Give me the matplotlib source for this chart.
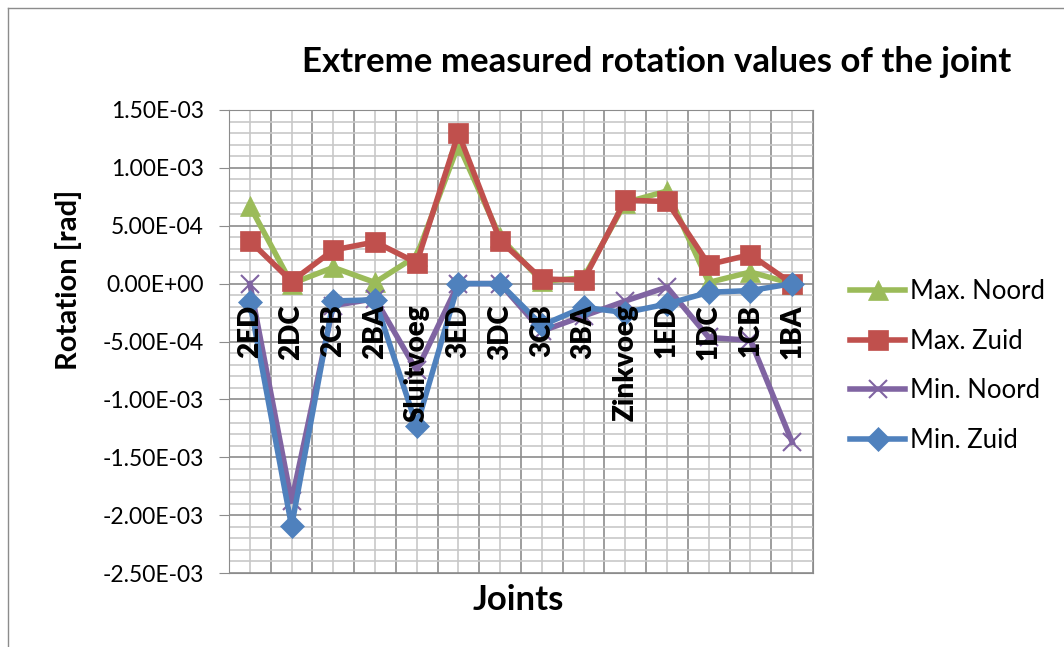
import numpy as np
import matplotlib.pyplot as plt
from matplotlib.lines import Line2D
from matplotlib.ticker import MultipleLocator, FuncFormatter

plt.rcParams['font.family'] = ['Lato', 'DejaVu Sans']

# joints along the structure
joints = ['2ED', '2DC', '2CB', '2BA', 'Sluitvoeg', '3ED', '3DC', '3CB', '3BA',
          'Zinkvoeg', '1ED', '1DC', '1CB', '1BA']

# extreme rotations [rad]
max_noord = np.array([0.67, 0.0, 0.14, 0.01, 0.24, 1.20, 0.40, 0.02, 0.05, 0.70, 0.80, 0.01, 0.10, 0.0]) * 1e-3
max_zuid = np.array([0.37, 0.02, 0.29, 0.36, 0.18, 1.30, 0.37, 0.04, 0.03, 0.72, 0.71, 0.165, 0.25, 0.0]) * 1e-3
min_noord = np.array([0.0, -1.88, -0.19, -0.13, -0.75, 0.0, 0.0, -0.41, -0.28, -0.15, -0.03, -0.465, -0.49, -1.37]) * 1e-3
min_zuid = np.array([-0.16, -2.095, -0.15, -0.14, -1.23, 0.0, 0.0, -0.36, -0.205, -0.25, -0.176, -0.075, -0.06, 0.0]) * 1e-3

series = [
    ('Max. Noord', max_noord, '#9BBB59', '^', 14),
    ('Max. Zuid', max_zuid, '#C0504D', 's', 14),
    ('Min. Noord', min_noord, '#8064A2', 'x', 13),
    ('Min. Zuid', min_zuid, '#4F81BD', 'D', 12),
]

fig = plt.figure(figsize=(10.64, 6.47), dpi=100)
ax = fig.add_axes([229 / 1064, 1 - 573 / 647, (813 - 229) / 1064, (573 - 110) / 647])

x = np.arange(len(joints))
for name, vals, col, mk, ms in series:
    ax.plot(x, vals, color=col, lw=4, marker=mk, ms=ms, mew=1.5 if mk == 'x' else 0.5,
            mec=col, mfc=col, label=name, zorder=3)

ax.set_xlim(-0.5, len(joints) - 0.5)
ax.set_ylim(-2.5e-3, 1.5e-3)

# grid: dark lines at majors, light lines at minors
ax.set_xticks(np.arange(-0.5, len(joints), 1))
ax.set_xticks(x, minor=True)
ax.yaxis.set_major_locator(MultipleLocator(0.5e-3))
ax.yaxis.set_minor_locator(MultipleLocator(0.1e-3))
ax.grid(which='minor', color='#C8C8C8', lw=1.2, zorder=0)
ax.grid(which='major', color='#8C8C8C', lw=1.2, zorder=1)
ax.set_axisbelow(True)

ax.tick_params(axis='x', which='both', length=0, labelbottom=False)
ax.tick_params(axis='y', which='minor', length=0)
ax.tick_params(axis='y', which='major', length=7, color='#8C8C8C', labelsize=16.5, pad=11)
ax.yaxis.set_major_formatter(FuncFormatter(lambda v, p: '{:.2E}'.format(v)))
for s in ax.spines.values():
    s.set_color('#8C8C8C')

# category labels sit under the zero line
for i, j in enumerate(joints):
    ax.annotate(j, (i, 0), xytext=(0, -15), textcoords='offset points', rotation=90,
                ha='center', va='top', fontsize=20, fontweight='heavy', zorder=4)

fig.text(68 / 1064, 1 - 280 / 647, 'Rotation [rad]', rotation=90, ha='center', va='center',
         fontsize=21, fontweight='bold')
fig.text(518 / 1064, 1 - 600 / 647, 'Joints', ha='center', va='center', fontsize=25, fontweight='bold')
fig.text(657 / 1064, 1 - 62 / 647, 'Extreme measured rotation values of the joint',
         ha='center', va='center', fontsize=25, fontweight='bold')

ax.legend(loc='center left', bbox_to_anchor=(850 / 1064, 1 - 366 / 647), bbox_transform=fig.transFigure,
          frameon=False, fontsize=18.5, handlelength=2.15, labelspacing=0.97, handletextpad=0.2,
          borderpad=0, borderaxespad=0)

# outer chart frame
fig.add_artist(Line2D([8 / 1064, 8 / 1064], [0, 1 - 8 / 647], transform=fig.transFigure, color='#8C8C8C', lw=1))
fig.add_artist(Line2D([8 / 1064, 1], [1 - 8 / 647, 1 - 8 / 647], transform=fig.transFigure, color='#8C8C8C', lw=1))

fig.savefig('out.png', dpi=100)
